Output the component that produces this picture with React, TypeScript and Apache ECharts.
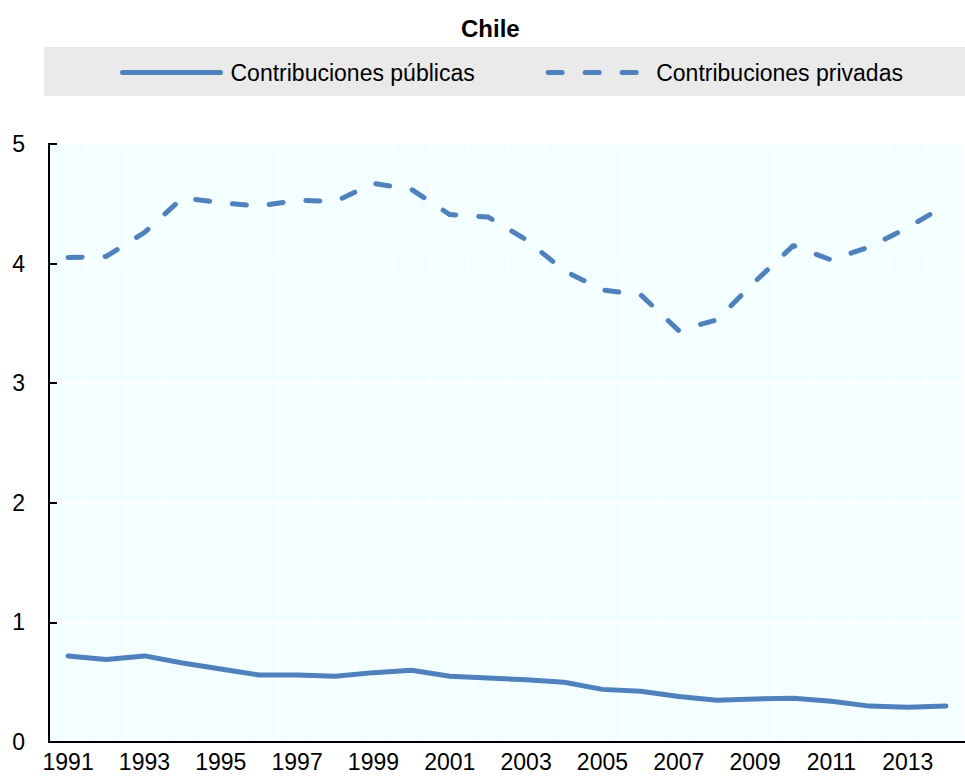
import React, { useEffect, useRef } from "react";
import * as echarts from "echarts";

const years = [
  "1991", "1992", "1993", "1994", "1995", "1996", "1997", "1998", "1999", "2000",
  "2001", "2002", "2003", "2004", "2005", "2006", "2007", "2008", "2009", "2010",
  "2011", "2012", "2013", "2014",
];
const publicas = [
  0.72, 0.69, 0.72, 0.66, 0.61, 0.56, 0.56, 0.55, 0.58, 0.6,
  0.55, 0.535, 0.52, 0.5, 0.44, 0.425, 0.38, 0.35, 0.36, 0.365,
  0.34, 0.3, 0.29, 0.3,
];
const privadas = [
  4.05, 4.06, 4.26, 4.55, 4.51, 4.48, 4.53, 4.52, 4.67, 4.62,
  4.41, 4.39, 4.2, 3.94, 3.78, 3.74, 3.44, 3.53, 3.85, 4.15,
  4.03, 4.14, 4.3, 4.49,
];
const seriesNames = ["Contribuciones públicas", "Contribuciones privadas"];
const title = "Chile";

const FONT = "'Liberation Sans', Arial, sans-serif";
const BLUE = "#4F81BD";
const DASH = [14, 23];

export default function App() {
  const ref = useRef<HTMLDivElement>(null);
  useEffect(() => {
    if (!ref.current) return;
    const chart = echarts.init(ref.current, null, { renderer: "svg" });
    chart.setOption({
      animation: false,
      backgroundColor: "#ffffff",
      textStyle: { fontFamily: FONT },
      title: {
        text: title,
        left: 456,
        top: 11,
        textStyle: { fontFamily: FONT, fontSize: 24, fontWeight: "bold", color: "#000" },
      },
      graphic: [
        {
          type: "rect",
          z: -1,
          shape: { x: 44, y: 47, width: 921, height: 49 },
          style: { fill: "#EAEAEA" },
        },
      ],
      legend: {
        left: 115,
        top: 56,
        itemGap: 71,
        itemWidth: 98,
        itemHeight: 24,
        itemStyle: { color: "rgba(0,0,0,0)", borderWidth: 0, opacity: 0 },
        textStyle: { fontFamily: FONT, fontSize: 23, color: "#000", padding: [0, 0, 0, 5] },
        data: [
          {
            name: seriesNames[0],
            lineStyle: { color: BLUE, width: 5, type: "solid", cap: "round", opacity: 1 },
          },
          {
            name: seriesNames[1],
            lineStyle: { color: BLUE, width: 5, type: DASH, cap: "round", opacity: 1 },
          },
        ],
      },
      grid: {
        left: 49,
        top: 144,
        bottom: 36,
        right: -8,
        show: true,
        backgroundColor: "#F2FEFF",
        borderColor: "#000",
        borderWidth: 2,
      },
      xAxis: {
        type: "category",
        data: years,
        boundaryGap: true,
        axisLine: { lineStyle: { color: "#000", width: 2 } },
        axisTick: { show: false },
        axisLabel: {
          interval: 1,
          color: "#000",
          fontFamily: FONT,
          fontSize: 23,
          margin: 8,
        },
        splitLine: { show: true, interval: 0, lineStyle: { color: "#ffffff", width: 2 } },
      },
      yAxis: {
        type: "value",
        min: 0,
        max: 5,
        interval: 1,
        axisLine: { show: true, lineStyle: { color: "#000", width: 2 } },
        axisTick: { show: true, inside: true, length: 8, lineStyle: { color: "#000", width: 2 } },
        axisLabel: { color: "#000", fontFamily: FONT, fontSize: 23, margin: 24 },
        splitLine: { show: true, lineStyle: { color: "#ffffff", width: 2 } },
      },
      series: [
        {
          name: seriesNames[0],
          type: "line",
          data: publicas,
          showSymbol: false,
          symbol: "none",
          lineStyle: { color: BLUE, width: 5, cap: "round", join: "round" },
          itemStyle: { color: BLUE },
        },
        {
          name: seriesNames[1],
          type: "line",
          data: privadas,
          showSymbol: false,
          symbol: "none",
          lineStyle: { color: BLUE, width: 5, type: DASH, cap: "round", join: "round" },
          itemStyle: { color: BLUE },
        },
      ],
    });
    return () => chart.dispose();
  }, []);
  return (
    <div
      ref={ref}
      style={{ position: "absolute", left: 0, top: 0, width: 965, height: 778 }}
    />
  );
}
